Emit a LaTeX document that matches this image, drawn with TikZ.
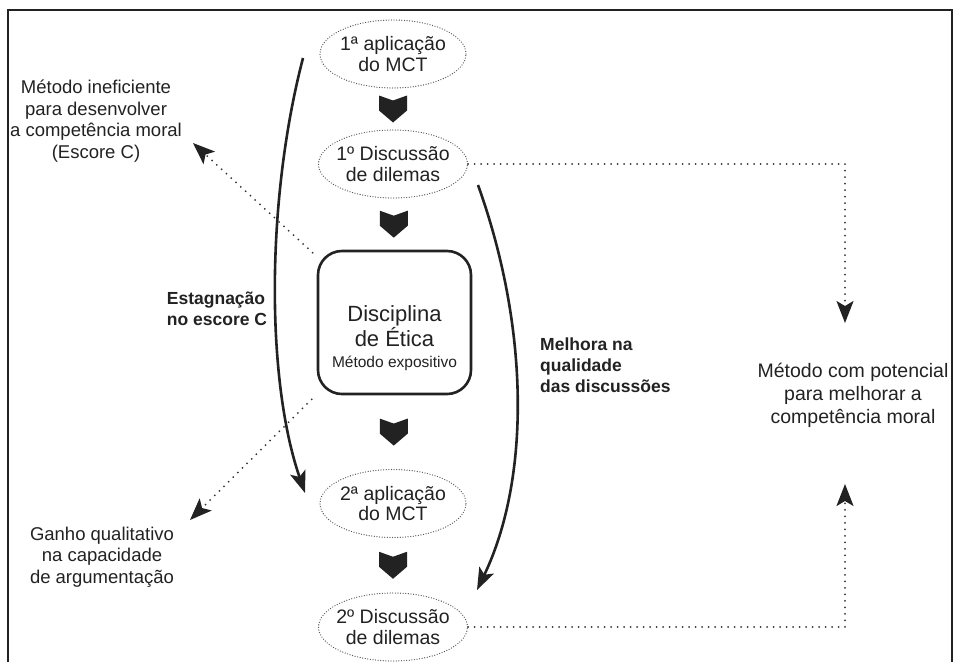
\documentclass[tikz,border=0pt]{standalone}
\usepackage{fontspec}
\setmainfont{Liberation Sans}
\usetikzlibrary{shapes.geometric,arrows.meta,calc}
\definecolor{ink}{HTML}{222222}
\definecolor{dotgray}{HTML}{333333}
\definecolor{elgray}{HTML}{555555}
\tikzset{
  stage/.style={ellipse, draw=elgray, line width=1.3pt, dash pattern=on 0pt off 2.6pt, line cap=round,
    minimum width=146pt, minimum height=68pt, inner xsep=-4pt, inner ysep=0pt, align=center,
    font=\fontsize{19.5}{20.5}\selectfont, text=ink},
  discbox/.style={draw=ink, line width=2.6pt, rounded corners=24pt, minimum width=153pt, minimum height=143pt},
  note/.style={align=center, text=ink, font=\fontsize{18.5}{21.5}\selectfont, inner sep=0pt},
  bignote/.style={align=center, text=ink, font=\fontsize{19.5}{23}\selectfont, inner sep=0pt},
  boldnote/.style={align=left, text=ink, font=\bfseries\fontsize{17.5}{21}\selectfont, inner sep=0pt},
  bigarrow/.style={draw=ink, line width=2.6pt, -{Stealth[length=22pt,width=16pt,inset=5pt]}},
  dotarrow/.style={draw=dotgray, line width=2pt, dash pattern=on 0pt off 6.5pt, line cap=round,
    -{Stealth[length=22pt,width=17pt,inset=5pt,color=ink]}},
  chev/.pic={\fill[ink] (-14,-13.5) -- (0,-8.5) -- (14,-13.5) -- (14,1.5) -- (0,13.5) -- (-14,1.5) -- cycle;}
}
\begin{document}
\begin{tikzpicture}[x=1pt,y=-1pt]
\useasboundingbox (0,0) rectangle (955,662);
\fill[white] (0,0) rectangle (955,662);

% stages
\node[stage] (e1) at (393,54) {1ª aplicação\\do MCT};
\node[stage] (e2) at (393,164) {1º Discussão\\de dilemas};
\node[discbox] (disc) at (394.5,322.5) {};
\node[align=center, text=ink, font=\fontsize{22}{25}\selectfont, inner sep=0pt] (disct) at (394.5,326) {Disciplina\\de Ética};
\node[align=center, text=ink, font=\fontsize{15.5}{17}\selectfont, inner sep=0pt] (discm) at (394.5,363) {Método expositivo};
\node[stage] (e3) at (393,503.5) {2ª aplicação\\do MCT};
\node[stage] (e4) at (393,627) {2º Discussão\\de dilemas};

% chevrons
\pic at ($(e1.south)!0.5!(e2.north)$) {chev};
\pic at ($(e2.south)!0.5!(disc.north)$) {chev};
\pic at ($(disc.south)!0.5!(e3.north)$) {chev};
\pic at ($(e3.south)!0.5!(e4.north)$) {chev};

% side texts
\node[note] (ineff) at (96,121) {Método ineficiente\\para desenvolver\\a competência moral\\(Escore C)};
\node[note] (ganho) at (102,557) {Ganho qualitativo\\na capacidade\\de argumentação};
\node[bignote] (pot) at (853,395) {Método com potencial\\para melhorar a\\competência moral};
\node[boldnote] (estag) at (217,309) {Estagnação\\no escore C};
\node[boldnote, anchor=west] (melh) at (540,365) {Melhora na\\qualidade\\das discussões};

% curved arrows
\coordinate (sL) at (303,58);
\coordinate (eL) at (305,493);
\draw[bigarrow] (sL) .. controls (266,200) and (266,380) .. (eL);
\coordinate (sR) at (478,185);
\coordinate (eR) at (477,590);
\draw[bigarrow] (sR) .. controls (530,330) and (530,480) .. (eR);

% dotted arrows
\coordinate (tipA) at (193,143);
\coordinate (tipB) at (190,520);
\coordinate (tipC) at (845,323);
\coordinate (tipD) at (845,484);
\draw[dotarrow] ([shift={(-4,3)}]disc.north west) -- (tipA);
\draw[dotarrow] ([shift={(-5,4)}]disc.south west) -- (tipB);
\draw[dotarrow] (e2.east) -| (tipC);
\draw[dotarrow] (e4.east) -| (tipD);

% frame
\draw[line width=2pt, ink] (8,662) -- (8,10) -- (952,10) -- (952,662);
\end{tikzpicture}
\end{document}
